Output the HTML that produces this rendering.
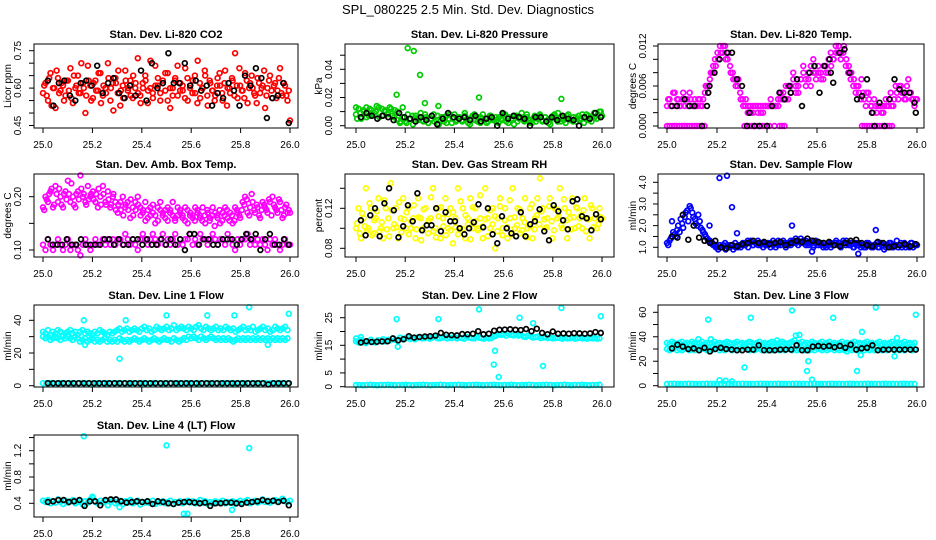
<!DOCTYPE html>
<html><head><meta charset="utf-8"><style>
html,body{margin:0;padding:0;background:#fff;}
svg{display:block;font-family:"Liberation Sans",Arial,sans-serif;}
</style></head><body>
<svg id="chart" width="936" height="540" viewBox="0 0 936 540" xmlns="http://www.w3.org/2000/svg">
<text x="468" y="14" font-size="13" text-anchor="middle">SPL_080225  2.5 Min. Std. Dev. Diagnostics</text>
</svg>
<script>
// ---- data ----
const xTicks = [25.0,25.2,25.4,25.6,25.8,26.0];
const xTickLabels = ["25.0","25.2","25.4","25.6","25.8","26.0"];

const co2Red = [0.58,0.62,0.55,0.66,0.60,0.52,0.64,0.59,0.61,0.57,0.63,0.68,0.54,0.60,0.65,0.58,0.62,0.50,0.69,0.61,0.56,0.63,0.59,0.66,0.57,0.60,0.70,0.55,0.62,0.64,0.58,0.53,0.61,0.67,0.59,0.63,0.56,0.60,0.72,0.57,0.62,0.65,0.54,0.60,0.58,0.69,0.61,0.55,0.63,0.59,0.66,0.52,0.60,0.64,0.57,0.62,0.59,0.68,0.55,0.61,0.63,0.58,0.71,0.56,0.60,0.65,0.53,0.62,0.59,0.57,0.64,0.61,0.55,0.67,0.60,0.58,0.63,0.74,0.56,0.61,0.59,0.66,0.54,0.62,0.60,0.57,0.64,0.58,0.61,0.52,0.60,0.65,0.56,0.62,0.59,0.68,0.57,0.61,0.55,0.47];
const co2Red2 = [0.61,0.57,0.64,0.53,0.60,0.67,0.58,0.62,0.55,0.63,0.59,0.56,0.65,0.61,0.58,0.70,0.60,0.57,0.63,0.55,0.62,0.59,0.66,0.54,0.61,0.58,0.64,0.60,0.51,0.62,0.67,0.59,0.56,0.63,0.60,0.57,0.65,0.62,0.58,0.54,0.60,0.63,0.59,0.71,0.56,0.61,0.64,0.58,0.62,0.66,0.55,0.60,0.57,0.63,0.69,0.59,0.61,0.56,0.64,0.60,0.58,0.65,0.54,0.62,0.60,0.67,0.57,0.63,0.59,0.55,0.61,0.66,0.58,0.62,0.53,0.60,0.64,0.57,0.61,0.68,0.59,0.56,0.63,0.60,0.65,0.58,0.54,0.62,0.60,0.67,0.57,0.63,0.59,0.61,0.56,0.64,0.58,0.62,0.57,0.59];
const co2Black = [0.63,0.53,0.62,0.63,0.57,0.55,0.62,0.63,0.61,0.69,0.58,0.62,0.64,0.58,0.56,0.61,0.57,0.67,0.55,0.70,0.60,0.62,0.74,0.62,0.62,0.70,0.61,0.63,0.59,0.61,0.53,0.58,0.56,0.62,0.59,0.53,0.65,0.61,0.68,0.64,0.48,0.56,0.57,0.62,0.46];

const pressGreen = [0.008,0.012,0.005,0.010,0.013,0.007,0.011,0.009,0.014,0.006,0.012,0.010,0.008,0.013,0.007,0.011,0.004,0.002,0.006,0.003,0.008,0.005,0.001,0.007,0.004,0.009,0.003,0.006,0.002,0.005,0.008,0.004,0.001,0.006,0.003,0.007,0.005,0.002,0.008,0.004,0.006,0.003,0.009,0.005,0.001,0.007,0.004,0.006,0.002,0.008,0.005,0.003,0.007,0.004,0.006,0.002,0.005,0.008,0.003,0.006,0.004,0.001,0.007,0.005,0.009,0.003,0.006,0.004,0.002,0.007,0.005,0.008,0.003,0.006,0.004,0.001,0.007,0.005,0.009,0.003,0.006,0.002,0.008,0.004,0.006,0.003,0.007,0.005,0.002,0.008,0.004,0.006,0.009,0.005,0.010,0.007];
const pressGreen2 = [0.005,0.009,0.011,0.006,0.012,0.008,0.010,0.013,0.007,0.011,0.009,0.012,0.006,0.010,0.003,0.006,0.002,0.005,0.007,0.003,0.006,0.004,0.008,0.002,0.005,0.003,0.007,0.004,0.006,0.002,0.008,0.005,0.003,0.006,0.004,0.007,0.002,0.005,0.008,0.003,0.006,0.004,0.002,0.007,0.005,0.003,0.006,0.004,0.008,0.002,0.005,0.007,0.003,0.006,0.004,0.008,0.002,0.005,0.003,0.007,0.004,0.006,0.002,0.005,0.008,0.003,0.006,0.004,0.007,0.005,0.003,0.006,0.004,0.008,0.005,0.007,0.003,0.006,0.008,0.010];
const pressBlack = [0.006,0.009,0.007,0.005,0.007,0.006,0.004,0.009,0.006,0.005,0.003,0.006,0.004,0.007,0.001,0.005,0.009,0.006,0.005,0.006,0.004,0.007,0.003,0.005,0.006,0.000,0.009,0.005,0.007,0.006,0.005,0.000,0.006,0.006,0.003,0.006,0.004,0.007,0.005,0.004,0.000,0.006,0.005,0.009,0.006];
const pressOutTimes = [25.21,25.235,25.26,25.165,25.28,25.5,25.835,25.335,25.0,25.19];
const pressOutVals = [0.055,0.053,0.036,0.022,0.016,0.020,0.019,0.014,0.013,0.013];

const tempMag = [0.003,0.004,0.003,0.005,0.004,0.003,0.004,0.003,0.004,0.005,0.003,0.004,0.003,0.004,0.003,0.005,0.006,0.007,0.008,0.010,0.011,0.012,0.011,0.012,0.010,0.009,0.008,0.007,0.006,0.005,0.004,0.003,0.002,0.003,0.002,0.003,0.002,0.003,0.002,0.003,0.003,0.003,0.003,0.003,0.004,0.004,0.005,0.004,0.006,0.005,0.007,0.006,0.005,0.007,0.008,0.006,0.007,0.009,0.008,0.007,0.008,0.007,0.009,0.008,0.010,0.009,0.010,0.011,0.012,0.011,0.012,0.010,0.009,0.008,0.007,0.006,0.005,0.007,0.004,0.005,0.004,0.003,0.004,0.002,0.003,0.002,0.003,0.003,0.004,0.003,0.004,0.005,0.006,0.005,0.004,0.006,0.005,0.004,0.003,0.004];
const tempMag2 = [0.004,0.003,0.005,0.003,0.004,0.003,0.005,0.004,0.003,0.004,0.003,0.003,0.004,0.003,0.004,0.006,0.005,0.008,0.009,0.009,0.010,0.011,0.012,0.010,0.011,0.008,0.007,0.006,0.007,0.004,0.003,0.004,0.003,0.002,0.003,0.003,0.003,0.002,0.003,0.003,0.003,0.004,0.003,0.003,0.003,0.005,0.004,0.006,0.004,0.006,0.008,0.005,0.006,0.007,0.009,0.007,0.008,0.006,0.010,0.008,0.009,0.008,0.007,0.009,0.008,0.011,0.010,0.012,0.011,0.010,0.011,0.009,0.008,0.007,0.006,0.005,0.006,0.004,0.005,0.003,0.005,0.003,0.002,0.003,0.003,0.003,0.002,0.004,0.003,0.005,0.003,0.006,0.004,0.006,0.005,0.004,0.007,0.005,0.004,0.004];
const tempZeroTimes = [25.0,25.01,25.02,25.03,25.04,25.05,25.06,25.07,25.08,25.09,25.10,25.11,25.12,25.13,25.14,25.15,25.31,25.32,25.33,25.34,25.35,25.36,25.37,25.38,25.39,25.40,25.41,25.43,25.45,25.46,25.47,25.78,25.79,25.80,25.81,25.82,25.83,25.84,25.85,25.86,25.87,25.88,25.89,25.90];
const tempZeroLevel = 0;
const tempBlackTimes = [25.02,25.04,25.07,25.09,25.11,25.14,25.16,25.165,25.17,25.19,25.21,25.24,25.26,25.28,25.30,25.32,25.33,25.35,25.37,25.40,25.42,25.45,25.47,25.49,25.495,25.52,25.54,25.57,25.59,25.61,25.63,25.65,25.655,25.665,25.69,25.71,25.73,25.76,25.78,25.80,25.82,25.83,25.85,25.87,25.89,25.91,25.93,25.95,25.97,25.99,25.995];
const tempBlackVals = [0.003,0.003,0.004,0.003,0.003,0,0.003,0.005,0.006,0.008,0.010,0.011,0.011,0.007,0.006,0,0.002,0,0,0,0.003,0.005,0.004,0.006,0.005,0.007,0.003,0.008,0.009,0.005,0.009,0.010,0.008,0.0065,0.011,0.0115,0.008,0.004,0.0045,0.007,0.002,0,0.0035,0,0.004,0.007,0.0055,0.005,0.005,0.0035,0.002];

const ambUpper = [0.18,0.20,0.19,0.21,0.18,0.22,0.19,0.20,0.18,0.21,0.23,0.19,0.20,0.18,0.21,0.24,0.20,0.19,0.22,0.20,0.21,0.19,0.18,0.20,0.22,0.19,0.21,0.18,0.20,0.19,0.17,0.19,0.20,0.18,0.19,0.16,0.18,0.19,0.20,0.18,0.17,0.19,0.16,0.18,0.17,0.15,0.18,0.19,0.17,0.16,0.18,0.17,0.19,0.16,0.18,0.17,0.16,0.18,0.15,0.17,0.16,0.18,0.17,0.16,0.18,0.15,0.17,0.16,0.18,0.17,0.16,0.15,0.17,0.18,0.16,0.17,0.15,0.18,0.17,0.16,0.19,0.20,0.17,0.18,0.19,0.17,0.18,0.16,0.19,0.18,0.17,0.19,0.20,0.18,0.17,0.19,0.16,0.18,0.17,0.17];
const ambUpper2 = [0.175,0.195,0.205,0.215,0.185,0.205,0.215,0.185,0.205,0.195,0.205,0.225,0.185,0.205,0.195,0.215,0.205,0.185,0.195,0.205,0.195,0.205,0.215,0.185,0.205,0.185,0.195,0.185,0.205,0.175,0.185,0.175,0.165,0.185,0.175,0.195,0.165,0.175,0.185,0.165,0.175,0.155,0.175,0.165,0.185,0.165,0.155,0.175,0.165,0.175,0.155,0.175,0.165,0.155,0.165,0.175,0.165,0.155,0.175,0.165,0.165,0.155,0.175,0.165,0.155,0.165,0.175,0.155,0.165,0.145,0.165,0.175,0.155,0.165,0.175,0.155,0.165,0.155,0.175,0.165,0.175,0.185,0.195,0.165,0.205,0.175,0.185,0.165,0.175,0.185,0.175,0.195,0.165,0.185,0.175,0.195,0.175,0.165,0.185,0.175];
const ambLower = [0.11,0.10,0.12,0.11,0.10,0.11,0.12,0.11,0.10,0.11,0.12,0.10,0.11,0.11,0.10,0.09,0.11,0.12,0.11,0.10,0.11,0.12,0.11,0.11,0.12,0.11,0.12,0.11,0.12,0.11,0.12,0.12,0.11,0.13,0.12,0.11,0.12,0.11,0.10,0.12,0.13,0.12,0.11,0.12,0.13,0.12,0.11,0.12,0.13,0.11,0.12,0.11,0.12,0.13,0.11,0.12,0.11,0.12,0.12,0.13,0.11,0.12,0.11,0.13,0.12,0.12,0.11,0.12,0.13,0.12,0.11,0.12,0.12,0.11,0.13,0.12,0.11,0.10,0.12,0.11,0.12,0.12,0.13,0.11,0.12,0.11,0.12,0.11,0.12,0.11,0.10,0.12,0.11,0.12,0.11,0.10,0.11,0.12,0.11,0.11];
const ambBlack = [0.12,0.11,0.11,0.11,0.12,0.11,0.11,0.12,0.11,0.11,0.11,0.11,0.12,0.12,0.11,0.12,0.11,0.11,0.12,0.12,0.11,0.12,0.11,0.11,0.12,0.11,0.12,0.11,0.12,0.10,0.13,0.13,0.11,0.12,0.12,0.11,0.11,0.12,0.12,0.12,0.11,0.12,0.13,0.12,0.13,0.10,0.12,0.13,0.11,0.11,0.12,0.11];

const rhYellow = [0.10,0.12,0.09,0.11,0.14,0.10,0.12,0.095,0.11,0.13,0.10,0.09,0.12,0.11,0.145,0.10,0.12,0.09,0.11,0.13,0.10,0.12,0.10,0.11,0.09,0.13,0.11,0.10,0.12,0.095,0.11,0.14,0.10,0.12,0.09,0.11,0.13,0.10,0.12,0.085,0.11,0.14,0.10,0.12,0.09,0.11,0.13,0.10,0.12,0.10,0.11,0.09,0.14,0.11,0.10,0.12,0.08,0.11,0.13,0.10,0.12,0.09,0.11,0.14,0.10,0.12,0.095,0.11,0.13,0.10,0.12,0.09,0.11,0.13,0.15,0.12,0.10,0.11,0.13,0.09,0.12,0.11,0.14,0.10,0.12,0.09,0.11,0.13,0.10,0.12,0.11,0.10,0.13,0.11,0.09,0.12,0.11,0.10,0.12,0.11];
const rhYellow2 = [0.105,0.095,0.115,0.102,0.098,0.125,0.093,0.108,0.117,0.097,0.106,0.128,0.099,0.092,0.118,0.104,0.101,0.126,0.096,0.109,0.116,0.094,0.107,0.123,0.099,0.111,0.088,0.119,0.103,0.108,0.131,0.097,0.091,0.112,0.121,0.102,0.093,0.114,0.098,0.116,0.101,0.094,0.127,0.099,0.113,0.104,0.089,0.121,0.107,0.098,0.133,0.102,0.109,0.092,0.118,0.104,0.112,0.097,0.122,0.093,0.108,0.101,0.128,0.094,0.111,0.103,0.119,0.098,0.106,0.091,0.102,0.124,0.099,0.113,0.104,0.117,0.109,0.101,0.122,0.107,0.098,0.119,0.112,0.103,0.129,0.108,0.116,0.099,0.111,0.121,0.102,0.113,0.118,0.097,0.109,0.123,0.101,0.114,0.104,0.111];
const rhBlack = [0.108,0.093,0.113,0.120,0.092,0.125,0.140,0.118,0.091,0.102,0.123,0.107,0.135,0.098,0.103,0.103,0.120,0.097,0.116,0.107,0.107,0.100,0.094,0.100,0.106,0.124,0.101,0.120,0.094,0.085,0.112,0.100,0.095,0.092,0.116,0.092,0.104,0.107,0.119,0.097,0.088,0.123,0.117,0.108,0.099,0.127,0.129,0.112,0.110,0.098,0.114,0.109];

const flowBlue = [1.2,1.3,1.5,1.6,1.8,1.7,2.1,2.4,2.7,2.9,2.6,2.3,2.0,2.2,1.8,1.6,1.4,1.3,1.2,1.1,1.0,1.1,1.0,1.2,1.1,1.0,1.1,1.2,1.0,1.1,1.2,1.1,1.3,1.2,1.1,1.2,1.3,1.1,1.2,1.1,1.2,1.0,1.3,1.2,1.1,1.2,1.3,1.2,1.1,1.3,1.2,1.4,1.3,1.2,1.3,1.1,1.2,1.3,1.1,1.2,1.2,1.1,1.2,1.0,1.1,1.2,1.1,1.3,1.2,1.1,1.2,1.3,1.1,1.2,1.0,1.1,1.2,1.1,1.0,1.2,1.1,1.0,1.1,1.2,1.0,1.1,0.9,1.1,1.2,1.0,1.1,1.3,1.1,1.0,1.2,1.1,1.0,1.2,1.1,1.1];
const flowBlue2 = [1.1,1.4,1.7,1.5,2.0,2.3,1.9,2.6,2.2,2.8,2.4,2.1,2.5,1.9,1.7,1.5,1.3,1.2,1.1,1.0,0.9,1.0,1.1,0.9,1.0,1.1,0.9,1.0,1.1,1.0,1.1,1.2,1.0,1.3,1.1,1.2,1.1,1.2,1.0,1.1,1.1,1.2,1.1,1.0,1.3,1.1,1.2,1.0,1.2,1.1,1.3,1.2,1.1,1.4,1.2,1.3,1.1,1.2,1.0,1.3,1.1,1.2,1.0,1.1,1.2,1.0,1.1,1.2,1.1,1.0,1.3,1.1,1.2,1.1,1.0,1.2,1.1,1.0,1.1,1.0,1.2,1.1,1.0,1.1,1.0,1.2,1.1,1.0,1.1,1.2,1.0,1.1,1.0,1.2,1.1,1.0,1.1,1.2,1.0,1.1];
const flowOutTimes = [25.21,25.24,25.26,25.28,25.5,25.835,25.765,25.02,25.17,25.58];
const flowOutVals = [4.2,4.3,2.85,1.65,2.0,1.8,0.7,2.2,2.0,0.8];
const flowBlack = [1.5,1.45,2.5,1.35,2.0,1.45,1.3,1.2,1.3,1.0,0.95,1.1,1.05,1.15,1.2,1.3,1.2,1.25,1.15,1.2,1.25,1.1,1.2,1.3,1.25,1.4,1.3,1.25,1.2,1.25,1.1,1.05,1.2,1.3,1.35,1.2,1.1,1.05,1.25,1.2,1.0,1.05,1.1,1.15,1.05,1.15];

const l1Upper = [33,32,34,31,33,32,34,33,31,32,33,34,32,33,31,33,34,32,33,32,31,33,32,34,33,32,31,33,32,33,34,35,33,34,35,33,34,35,34,33,35,36,34,35,33,34,36,35,34,35,36,34,35,37,34,35,36,35,34,36,35,34,36,37,35,34,36,35,34,35,36,34,35,34,36,35,34,35,33,34,35,36,34,35,34,36,33,34,35,36,34,35,33,34,36,35,34,35,36,34];
const l1Lower = [30,29,30,28,29,30,29,28,30,29,30,29,28,30,29,27,28,29,27,28,29,27,28,27,28,29,27,28,27,28,27,29,28,27,28,27,28,29,28,27,28,29,28,27,28,29,28,27,28,29,28,28,27,29,28,27,28,29,28,30,29,30,29,28,30,29,28,29,30,29,28,29,28,29,28,29,28,27,28,29,28,29,28,29,28,29,28,29,28,29,28,29,28,29,28,29,28,29,28,29];
const l1Base = [1.5,1.5,1.6,1.5,1.4,1.5,1.6,1.5,1.5,1.4,1.5,1.6,1.5,1.5,1.4,1.5,1.6,1.5,1.5,1.4,1.5,1.6,1.5,1.5,1.4,1.5,1.6,1.5,1.5,1.4,1.5,1.6,1.5,1.5,1.4,1.5,1.6,1.5,1.5,1.4,1.5,1.6,1.5,1.5,1.4,1.5,1.6,1.5,1.5,1.4,1.5,1.6,1.5,1.5,1.4,1.5,1.6,1.5,1.5,1.4,1.5,1.6,1.5,1.5,1.4,1.5,1.6,1.5,1.5,1.4];
const l1OutTimes = [25.165,25.17,25.31,25.335,25.5,25.665,25.775,25.835,25.995,25.91];
const l1OutVals = [40,25,16.5,40,43,43,43,48,44,25];
const l1Black = [1.5,1.5,1.5,1.5,1.5,1.5,1.5,1.5,1.5,1.5,1.5,1.5,1.5,1.5,1.5,1.5,1.5,1.5,1.5,1.5,1.5,1.5,1.5,1.5,1.5,1.5,1.5,1.5,1.5,1.5,1.5,1.5,1.5,1.5,1.5,1.5,1.5,1.5,1.5,1.5,1.5,1.5,1.5,0.8,1.5,1.5,1.5,1.5];

const l2Band = [16.5,16,17,16.2,15.8,16.5,17,16.3,16,16.8,16.5,17.2,16.4,17,16.8,17.5,17,16.6,17.8,17.2,17.5,18,17.3,17.6,17.2,17.8,18,17.5,17.6,18,17.4,17.8,18.2,17.6,17.5,17.8,18,17.5,17.8,17.6,18,17.5,17.8,17.6,17.4,18,17.8,17.6,17.5,18,17.8,17.6,17.4,17.8,17.5,17.6,18.2,18.5,19,18.8,19,18.5,19.2,18.8,18.6,19,18.5,18.8,18.2,18,18.5,18.2,17.8,18,18.2,17.6,17.8,18,17.6,17.8,17.5,17.6,17.8,17.6,17.4,17.8,17.5,17.6,17.8,17.4,17.6,17.8,17.5,17.6,17.4,17.8,17.5,17.6,17.4,17.5];
const l2Base = [0.6,0.6,0.5,0.6,0.7,0.6,0.5,0.6,0.6,0.7,0.6,0.5,0.6,0.6,0.7,0.6,0.5,0.6,0.6,0.7,0.6,0.5,0.6,0.6,0.7,0.6,0.5,0.6,0.6,0.7,0.6,0.5,0.6,0.6,0.7,0.6,0.5,0.6,0.6,0.7,0.6,0.5,0.6,0.6,0.7,0.6,0.5,0.6,0.6,0.7,0.6,0.5,0.6,0.6,0.7,0.6,0.5,0.6,0.6,0.7,0.6,0.5,0.6,0.6,0.7,0.6,0.5,0.6,0.6,0.7];
const l2OutTimes = [25.0,25.165,25.17,25.335,25.5,25.56,25.565,25.58,25.665,25.72,25.76,25.835,25.995,25.02];
const l2OutVals = [17.5,24.5,14.5,24.5,28,8,13,3.5,25,23,7.5,28.5,25.5,18];
const l2Black = [16,16.5,16.2,16.3,16.4,16.5,17.5,16.8,17.2,18.3,17.8,18,18.2,18.3,18.5,19.5,18.8,18.7,18.6,19.1,19,19.2,20.1,19,19.2,20.3,20.6,20.7,20.8,20.6,20.5,20.9,20.1,21,19.5,19,20,19.2,19.3,19.2,19.4,19.3,19.2,19.3,19.8,19.5];

const l3Upper = [35,34,36,35,34,35,36,34,35,34,36,35,34,35,36,34,35,34,35,36,34,35,34,35,36,35,34,35,36,34,35,34,35,36,35,34,35,36,34,35,34,35,36,35,34,35,36,35,34,35,36,37,34,35,36,34,35,34,36,35,34,35,36,34,35,36,34,35,34,35,36,34,35,34,35,36,34,35,34,35,36,34,35,34,35,36,34,35,34,35,36,34,35,34,35,36,34,35,34,35];
const l3Lower = [30,29,30,31,29,30,29,30,31,29,30,29,30,29,31,30,29,30,29,30,31,29,30,29,30,31,29,30,29,30,29,31,30,29,30,29,30,31,29,30,29,30,29,31,30,29,30,29,30,31,29,30,29,30,31,29,30,29,30,29,31,30,29,30,29,30,31,29,30,29,30,29,31,30,29,30,29,30,31,29,30,29,30,29,31,30,29,30,29,30,31,29,30,29,30,29,31,30,29,30];
const l3Base = [1.5,1.5,1.6,1.5,1.4,1.5,1.6,1.5,1.5,1.4,1.5,1.6,1.5,1.5,1.4,1.5,1.6,1.5,1.5,1.4,1.5,1.6,1.5,1.5,1.4,1.5,1.6,1.5,1.5,1.4,1.5,1.6,1.5,1.5,1.4,1.5,1.6,1.5,1.5,1.4,1.5,1.6,1.5,1.5,1.4,1.5,1.6,1.5,1.5,1.4,1.5,1.6,1.5,1.5,1.4,1.5,1.6,1.5,1.5,1.4,1.5,1.6,1.5,1.5,1.4,1.5,1.6,1.5,1.5,1.4];
const l3OutTimes = [25.165,25.175,25.21,25.235,25.26,25.31,25.335,25.5,25.515,25.53,25.56,25.565,25.58,25.665,25.72,25.76,25.775,25.78,25.835,25.91,25.92,25.995,25.125,25.44];
const l3OutVals = [54,38,4.5,4,3.5,15,55.5,61.5,41,41.5,12,20,5,55.5,28,12,25,44,64,24,39,58,38,37];
const l3Black = [30.5,33.5,32,30,30.5,29,31,28,30,31,30,29.5,29,29,29.5,29.5,33,29,29,29,29.5,29.5,29.5,33,29,29,32,32.5,32,32.5,31.5,32.5,31,33.5,29.5,30.5,31,33,29,29.5,29.5,29.5,29.5,29.5,29.5,29.5];

const l4Band = [0.44,0.42,0.45,0.40,0.43,0.41,0.46,0.42,0.39,0.44,0.41,0.43,0.45,0.40,0.42,0.44,0.38,0.43,0.41,0.46,0.48,0.42,0.40,0.44,0.41,0.43,0.37,0.42,0.45,0.40,0.42,0.44,0.39,0.43,0.41,0.45,0.40,0.42,0.44,0.38,0.42,0.41,0.43,0.40,0.44,0.39,0.42,0.41,0.43,0.40,0.42,0.44,0.39,0.42,0.41,0.43,0.40,0.42,0.44,0.41,0.43,0.40,0.42,0.45,0.41,0.43,0.39,0.42,0.40,0.43,0.41,0.42,0.44,0.40,0.42,0.41,0.43,0.39,0.42,0.44,0.41,0.43,0.45,0.40,0.42,0.44,0.41,0.43,0.46,0.42,0.44,0.41,0.43,0.45,0.42,0.44,0.47,0.43,0.42,0.44];
const l4OutTimes = [25.165,25.5,25.835,25.57,25.585,25.765,25.31,25.2];
const l4OutVals = [1.42,1.28,1.24,0.24,0.24,0.30,0.34,0.50];
const l4Black = [0.42,0.43,0.45,0.45,0.42,0.43,0.45,0.36,0.43,0.43,0.37,0.45,0.46,0.46,0.43,0.41,0.42,0.43,0.42,0.43,0.39,0.43,0.42,0.40,0.39,0.41,0.42,0.42,0.41,0.40,0.41,0.36,0.40,0.40,0.41,0.41,0.40,0.39,0.41,0.42,0.43,0.45,0.43,0.44,0.42,0.44,0.37];

// ---- layout ----
const cols = [{L:34,R:298,x0:43,x1:290,ylab:8,tlab:18},{L:345,R:614,x0:356,x1:602,ylab:319,tlab:329},{L:658,R:924,x0:667,x1:917,ylab:633,tlab:643}];
const rows = [{T:44,B:128},{T:174,B:257},{T:305,B:387},{T:435,B:517}];
const NS = "http://www.w3.org/2000/svg";
const svg = document.getElementById('chart');
function mk(tag, attrs, parent){const e=document.createElementNS(NS,tag);for(const k in attrs)e.setAttribute(k,attrs[k]);(parent||svg).appendChild(e);return e;}

function panel(name,title,ylabel,c,r,v0,p0,v1,p1,ticks,labels,series){
  const C=cols[c],R=rows[r];
  const g=mk('g',{});
  
  
  const sx=t=>C.x0+(t-25)*(C.x1-C.x0);
  const sy=v=>p0+(v-v0)*(p1-p0)/(v1-v0);
  const tt=mk('text',{x:(C.L+C.R)/2,y:R.T-6,'font-size':11,'font-weight':'bold','text-anchor':'middle'},g);
  tt.textContent=title;
  
  
  const yl=mk('text',{x:0,y:0,'font-size':10,'text-anchor':'middle',transform:`translate(${C.ylab+3},${(R.T+R.B)/2}) rotate(-90)`},g);
  yl.textContent=ylabel;
  
  
  series.forEach(s=>{
    const n=s.vals.length;
    s.vals.forEach((v,i)=>{
      const t=s.times?s.times[i]:(s.t0+(s.t1-s.t0)*(n>1?i/(n-1):0));
      const ci=mk('circle',{cx:sx(t).toFixed(1),cy:sy(v).toFixed(1),r:2.4,fill:'none',stroke:s.color,'stroke-width':1.7},g);
      
      
    });
  });
  const bx=mk('rect',{x:C.L,y:R.T,width:C.R-C.L,height:R.B-R.T,fill:'none',stroke:'#000','stroke-width':1},g);
  
  
  mk('line',{x1:sx(25),x2:sx(26),y1:R.B,y2:R.B,stroke:'#000'},g);
  xTicks.forEach((t,i)=>{
    mk('line',{x1:sx(t),x2:sx(t),y1:R.B,y2:R.B+5,stroke:'#000'},g);
    const lb=mk('text',{x:sx(t),y:R.B+20,'font-size':10,'text-anchor':'middle'},g);
    lb.textContent=xTickLabels[i];
    
    
  });
  ticks.forEach(v=>{mk('line',{x1:C.L-5,x2:C.L,y1:sy(v),y2:sy(v),stroke:'#000'},g);});
  labels.forEach(l=>{
    const lb=mk('text',{x:0,y:0,'font-size':10,'text-anchor':'middle',transform:`translate(${C.tlab+3},${sy(parseFloat(l))}) rotate(-90)`},g);
    lb.textContent=l;
    
    
  });
}
const RED='#ff0000',GRN='#00cc00',MAG='#ff00ff',YEL='#ffff00',BLU='#0000ff',CY='#00ffff',BK='#000';
const zeroVals = tempZeroTimes.map(()=>tempZeroLevel);

panel('co2','Stan. Dev. Li-820 CO2','Licor ppm',0,0,0.45,125.5,0.75,50.7,[0.45,0.5,0.55,0.6,0.65,0.7,0.75],['0.45','0.60','0.75'],[
 {vals:co2Red,color:RED,t0:25,t1:26},{vals:co2Red2,color:RED,t0:25.005,t1:25.995},{vals:co2Black,color:BK,t0:25.02,t1:25.995}]);
panel('pressure','Stan. Dev. Li-820 Pressure','kPa',1,0,0,125.7,0.04,69.3,[0,0.01,0.02,0.03,0.04,0.05],['0.00','0.02','0.04'],[
 {vals:pressGreen,color:GRN,t0:25,t1:26},{vals:pressGreen2,color:GRN,t0:25.005,t1:25.995},{vals:pressOutVals,times:pressOutTimes,color:GRN},{vals:pressBlack,color:BK,t0:25.02,t1:25.995}]);
panel('temp','Stan. Dev. Li-820 Temp.','degrees C',2,0,0,126,0.012,46,[0,0.002,0.004,0.006,0.008,0.010,0.012],['0.000','0.006','0.012'],[
 {vals:tempMag,color:MAG,t0:25,t1:26},{vals:tempMag2,color:MAG,t0:25.005,t1:25.995},{vals:zeroVals,times:tempZeroTimes,color:MAG},{vals:tempBlackVals,times:tempBlackTimes,color:BK}]);
panel('ambbox','Stan. Dev. Amb. Box Temp.','degrees C',0,1,0.10,250,0.20,196.7,[0.10,0.15,0.20],['0.10','0.20'],[
 {vals:ambUpper,color:MAG,t0:25,t1:26},{vals:ambUpper2,color:MAG,t0:25.005,t1:25.995},{vals:ambLower,color:MAG,t0:25,t1:26},{vals:ambBlack,color:BK,t0:25.02,t1:25.995}]);
panel('rh','Stan. Dev. Gas Stream RH','percent',1,1,0.08,248.3,0.12,208.3,[0.08,0.10,0.12,0.14],['0.08','0.12'],[
 {vals:rhYellow,color:YEL,t0:25,t1:26},{vals:rhYellow2,color:YEL,t0:25.005,t1:25.995},{vals:rhBlack,color:BK,t0:25.02,t1:25.995}]);
panel('sampleflow','Stan. Dev. Sample Flow','ml/min',2,1,1.0,247.3,4.0,182.3,[1,1.5,2,2.5,3,3.5,4],['1.0','2.0','3.0','4.0'],[
 {vals:flowBlue,color:BLU,t0:25,t1:26},{vals:flowBlue2,color:BLU,t0:25.005,t1:25.995},{vals:flowOutVals,times:flowOutTimes,color:BLU},{vals:flowBlack,color:BK,t0:25.02,t1:25.995}]);
panel('line1','Stan. Dev. Line 1 Flow','ml/min',0,2,0,385.7,40,320.3,[0,10,20,30,40],['0','20','40'],[
 {vals:l1Upper,color:CY,t0:25,t1:25.99},{vals:l1Lower,color:CY,t0:25,t1:25.99},{vals:l1Base,color:CY,t0:25,t1:25.99},{vals:l1OutVals,times:l1OutTimes,color:CY},{vals:l1Black,color:BK,t0:25.02,t1:25.995}]);
panel('line2','Stan. Dev. Line 2 Flow','ml/min',1,2,0,386.7,25,317.7,[0,5,10,15,20,25],['0','5','15','25'],[
 {vals:l2Band,color:CY,t0:25,t1:25.99},{vals:l2Base,color:CY,t0:25,t1:25.99},{vals:l2OutVals,times:l2OutTimes,color:CY},{vals:l2Black,color:BK,t0:25.02,t1:25.995}]);
panel('line3','Stan. Dev. Line 3 Flow','ml/min',2,2,0,385.7,60,312.3,[0,10,20,30,40,50,60],['0','20','40','60'],[
 {vals:l3Upper,color:CY,t0:25,t1:25.99},{vals:l3Lower,color:CY,t0:25,t1:25.99},{vals:l3Base,color:CY,t0:25,t1:25.99},{vals:l3OutVals,times:l3OutTimes,color:CY},{vals:l3Black,color:BK,t0:25.02,t1:25.995}]);
panel('line4','Stan. Dev. Line 4 (LT) Flow','ml/min',0,3,0.4,503.3,1.2,450.7,[0.4,0.6,0.8,1.0,1.2,1.4],['0.4','0.8','1.2'],[
 {vals:l4Band,color:CY,t0:25,t1:26},{vals:l4OutVals,times:l4OutTimes,color:CY},{vals:l4Black,color:BK,t0:25.02,t1:25.995}]);
</script>
</body></html>
